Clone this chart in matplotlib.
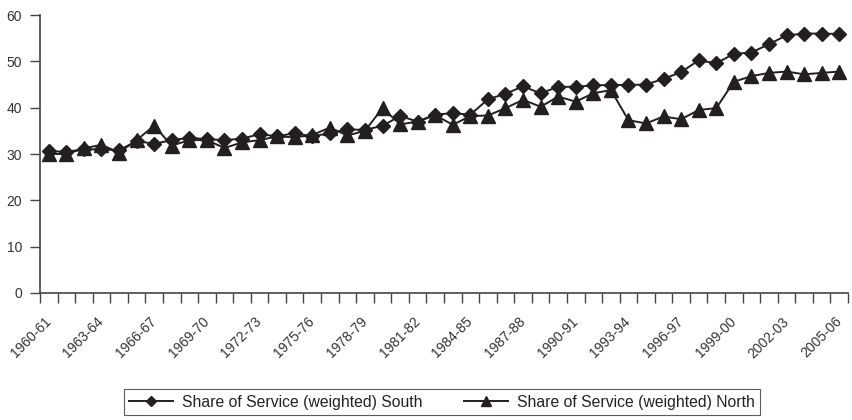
import matplotlib
matplotlib.use("Agg")
import matplotlib.pyplot as plt
import numpy as np

plt.rcParams['font.family'] = ['Liberation Sans', 'DejaVu Sans']

years = ['%d-%02d' % (y, (y + 1) % 100) for y in range(1960, 2006)]

south = [30.6, 30.5, 31.0, 31.0, 30.8, 32.8, 32.2, 33.0, 33.5, 33.2,
         33.0, 33.3, 34.3, 33.8, 34.5, 33.8, 34.5, 35.3, 35.2, 36.1,
         38.2, 37.0, 38.5, 38.8, 38.5, 41.8, 43.0, 44.6, 43.1, 44.5,
         44.5, 44.8, 44.9, 44.9, 45.0, 46.2, 47.7, 50.2, 49.6, 51.6,
         51.9, 53.7, 55.6, 56.0, 56.0, 55.9]
north = [30.0, 30.0, 31.2, 32.0, 30.3, 33.0, 36.1, 31.8, 33.0, 33.0,
         31.3, 32.5, 33.0, 33.8, 33.6, 34.1, 35.7, 34.0, 35.0, 39.9,
         36.4, 37.0, 38.4, 36.3, 38.2, 38.3, 39.9, 41.7, 40.2, 42.4,
         41.3, 43.1, 43.8, 37.3, 36.6, 38.1, 37.5, 39.5, 39.9, 45.6,
         46.8, 47.5, 47.8, 47.2, 47.5, 47.8]

fig = plt.figure(figsize=(8.52, 4.2), dpi=100)
ax = fig.add_axes([40 / 852, 127 / 420, 808 / 852, 278 / 420])

x = np.arange(len(years)) + 0.5
ink = '#231f20'
ax.plot(x, south, color=ink, lw=1.4, marker='D', markersize=7,
        label='Share of Service (weighted) South')
ax.plot(x, north, color=ink, lw=1.4, marker='^', markersize=9.5,
        label='Share of Service (weighted) North')

ax.set_xlim(0, len(years))
ax.set_ylim(0, 60)
ax.set_yticks(range(0, 61, 10))
ax.set_xticks(range(0, len(years) + 1))
ax.set_xticklabels([])
ax.set_xticks(x[::3], minor=True)
ax.set_xticklabels(years[::3], minor=True, rotation=45, ha='right',
                   va='center', rotation_mode='anchor', fontsize=10,
                   color='#333333')
ax.tick_params(axis='x', which='major', length=7, width=1, color='#444444')
ax.tick_params(axis='x', which='minor', length=0, pad=19)
ax.tick_params(axis='y', length=7, width=1, color='#444444', labelsize=10,
               labelcolor='#333333', pad=6)

for s in ['top', 'right']:
    ax.spines[s].set_visible(False)
for s in ['left', 'bottom']:
    ax.spines[s].set_color('#444444')
    ax.spines[s].set_linewidth(1.2)

leg = fig.legend(loc='center', bbox_to_anchor=(442 / 852, 1 - 402 / 420),
                 ncol=2, fontsize=11.3, frameon=True, fancybox=False,
                 edgecolor='#333333', handlelength=2.8, handletextpad=0.6,
                 columnspacing=2.6, borderpad=0.35, markerscale=0.7)
leg.get_frame().set_linewidth(0.8)
for t in leg.get_texts():
    t.set_color('#222222')

fig.savefig('out.png', dpi=100)
